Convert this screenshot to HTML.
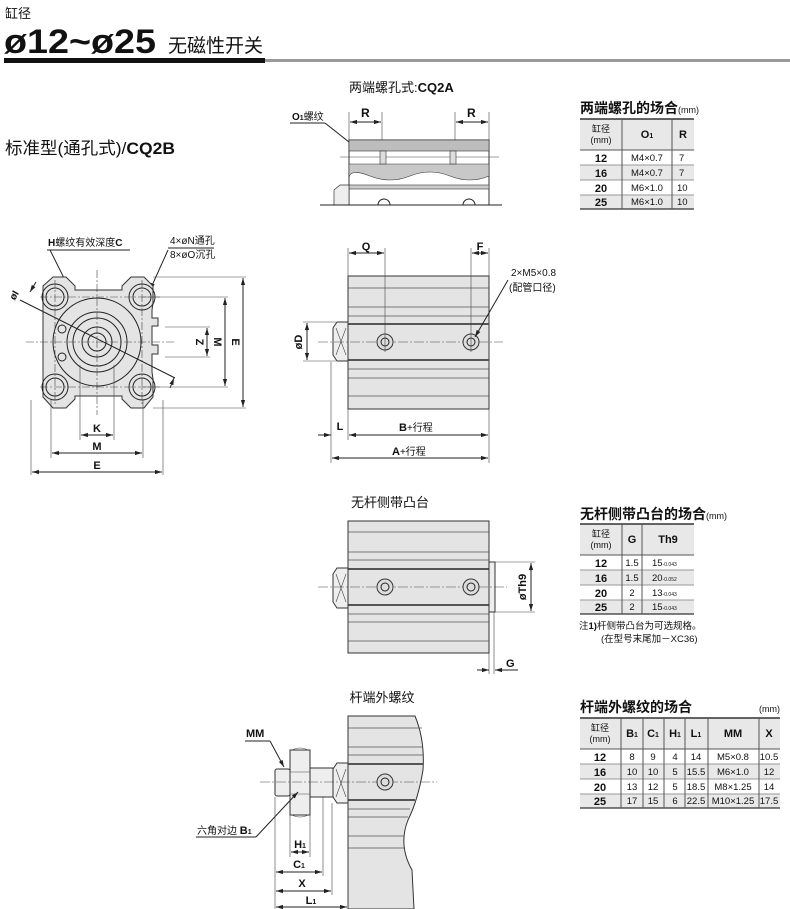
<!DOCTYPE html>
<html><head><meta charset="utf-8"><style>
html,body{margin:0;padding:0;background:#fff}
svg{display:block}
text{font-family:"Liberation Sans","Noto Sans CJK SC",sans-serif;fill:#111}
.b{font-weight:bold}
.ln{stroke:#222;stroke-width:1;fill:none}
.th{stroke:#444;stroke-width:0.6;fill:none}
.bd{fill:#e4e4e4;stroke:#333;stroke-width:1}
</style></head><body>
<svg width="790" height="909" viewBox="0 0 790 909" xmlns="http://www.w3.org/2000/svg">
<defs>
<marker id="a" viewBox="0 0 10 10" refX="10" refY="5" markerWidth="7" markerHeight="7" orient="auto-start-reverse"><path d="M0,2 L10,5 L0,8 z" fill="#222"/></marker>
</defs>
<!-- header -->
<text x="5" y="18" font-size="13">缸径</text>
<text x="4" y="53" font-size="34" class="b" textLength="152" lengthAdjust="spacingAndGlyphs">ø12~ø25</text>
<text x="168" y="52" font-size="19">无磁性开关</text>
<rect x="4" y="58" width="261" height="5" fill="#111"/>
<rect x="265" y="59" width="525" height="3" fill="#999"/>

<text x="5" y="154" font-size="17" textLength="170" lengthAdjust="spacingAndGlyphs">标准型(通孔式)/<tspan class="b">CQ2B</tspan></text>

<!-- CQ2A drawing -->
<text x="349" y="92" font-size="13">两端螺孔式:<tspan class="b">CQ2A</tspan></text>
<text x="292" y="120" font-size="10" class="b">O<tspan font-size="7">1</tspan><tspan font-weight="normal">螺纹</tspan></text>
<line x1="290" y1="123" x2="325" y2="123" class="ln"/>
<line x1="325" y1="123" x2="359" y2="150" class="ln" marker-end="url(#a)"/>
<text x="361" y="117" font-size="12" class="b">R</text>
<text x="467" y="117" font-size="12" class="b">R</text>
<line x1="349" y1="112" x2="349" y2="205" class="th"/><line x1="382" y1="112" x2="382" y2="145" class="th"/>
<line x1="455" y1="112" x2="455" y2="145" class="th"/><line x1="489" y1="112" x2="489" y2="205" class="th"/>
<line x1="350" y1="122" x2="381" y2="122" class="ln" marker-start="url(#a)" marker-end="url(#a)"/>
<line x1="456" y1="122" x2="488" y2="122" class="ln" marker-start="url(#a)" marker-end="url(#a)"/>
<rect x="349" y="140" width="140" height="65" fill="#fff" stroke="#333"/>
<rect x="349" y="140" width="140" height="11" fill="#bdbdbd" stroke="#333" stroke-width="0.6"/>
<path d="M349,164 H489 V176 Q470,184 450,176 T410,176 T370,176 T349,178 Z" fill="#c8c8c8" stroke="#333" stroke-width="0.6"/>
<rect x="349" y="185" width="140" height="4" fill="#ccc" stroke="#333" stroke-width="0.6"/>
<line x1="340" y1="157" x2="499" y2="157" class="th"/>
<rect x="380" y="151" width="6" height="13" fill="#ddd" stroke="#333" stroke-width="0.6"/>
<rect x="450" y="151" width="6" height="13" fill="#ddd" stroke="#333" stroke-width="0.6"/>
<path d="M334,205 V190 L340,185 H349 V205" fill="#eee" stroke="#333" stroke-width="0.7"/>
<line x1="320" y1="205" x2="502" y2="205" class="ln"/>
<path d="M378,205 a6,6 0 0 1 12,0" class="ln"/><path d="M463,205 a6,6 0 0 1 12,0" class="ln"/>

<!-- Table 1 -->
<text x="580" y="113" font-size="14" class="b">两端螺孔的场合<tspan font-size="9" font-weight="normal">(mm)</tspan></text>
<rect x="580" y="119" width="114" height="31" fill="#e8e8e8"/>
<rect x="580" y="165" width="114" height="15" fill="#e8e8e8"/>
<rect x="580" y="195" width="114" height="14" fill="#e8e8e8"/>
<line x1="580" y1="119" x2="694" y2="119" stroke="#333" stroke-width="1.5"/>
<line x1="580" y1="150" x2="694" y2="150" stroke="#555"/>
<line x1="580" y1="165" x2="694" y2="165" stroke="#999"/>
<line x1="580" y1="180" x2="694" y2="180" stroke="#999"/>
<line x1="580" y1="195" x2="694" y2="195" stroke="#999"/>
<line x1="580" y1="209" x2="694" y2="209" stroke="#333" stroke-width="1.2"/>
<line x1="622" y1="119" x2="622" y2="209" stroke="#555"/><line x1="672" y1="119" x2="672" y2="209" stroke="#555"/>
<text x="601" y="132" font-size="9" text-anchor="middle" fill="#555">缸径</text><text x="601" y="143" font-size="9" text-anchor="middle">(mm)</text>
<text x="647" y="138" font-size="11" class="b" text-anchor="middle">O<tspan font-size="7">1</tspan></text>
<text x="683" y="138" font-size="11" class="b" text-anchor="middle">R</text>
<g font-size="11"><text x="601" y="162" text-anchor="middle" class="b">12</text><text x="601" y="177" text-anchor="middle" class="b">16</text><text x="601" y="192" text-anchor="middle" class="b">20</text><text x="601" y="206" text-anchor="middle" class="b">25</text></g>
<g font-size="9.5"><text x="647" y="161" text-anchor="middle">M4×0.7</text><text x="647" y="176" text-anchor="middle">M4×0.7</text><text x="647" y="191" text-anchor="middle">M6×1.0</text><text x="647" y="205" text-anchor="middle">M6×1.0</text>
<text x="679" y="161">7</text><text x="679" y="176">7</text><text x="677" y="191">10</text><text x="677" y="205">10</text></g>

<!-- Front view -->
<text x="48" y="246" font-size="10" class="b">H<tspan font-weight="normal">螺纹有效深度</tspan>C</text>
<line x1="47" y1="250" x2="130" y2="250" class="ln"/>
<line x1="50" y1="250" x2="90" y2="330" class="ln" marker-end="url(#a)"/>
<text x="170" y="244" font-size="10">4×øN通孔</text>
<text x="170" y="258" font-size="10">8×øO沉孔</text>
<line x1="168" y1="248" x2="214" y2="248" class="ln"/>
<line x1="168" y1="250" x2="150" y2="290" class="ln" marker-end="url(#a)"/>
<path d="M43,286 L53,277 H66 L75,286 V290 H122 V286 L131,277 H144 L153,286 V303 L152,310 V318 H158 V326 H152 V345 H158 V354 H152 V372 L153,379 V397 L144,408 H131 L122,399 V396 H75 V399 L66,408 H53 L43,397 Z" fill="#e4e4e4" stroke="#333"/>
<g class="ln" stroke-width="0.8">
<circle cx="55" cy="297" r="13"/><circle cx="55" cy="297" r="9"/>
<circle cx="142" cy="297" r="13"/><circle cx="142" cy="297" r="9"/>
<circle cx="55" cy="387" r="13"/><circle cx="55" cy="387" r="9"/>
<circle cx="142" cy="387" r="13"/><circle cx="142" cy="387" r="9"/>
<circle cx="97" cy="342" r="44"/><circle cx="97" cy="342" r="30"/><circle cx="97" cy="342" r="24"/><circle cx="97" cy="342" r="15"/><circle cx="97" cy="342" r="9"/>
<circle cx="62" cy="329" r="4"/><circle cx="62" cy="357" r="4"/>
</g>
<g class="th" stroke-dasharray="8,2,2,2">
<line x1="26" y1="342" x2="175" y2="342"/><line x1="97" y1="270" x2="97" y2="415"/>
<line x1="40" y1="297" x2="160" y2="297"/><line x1="40" y1="387" x2="160" y2="387"/>
<line x1="55" y1="280" x2="55" y2="405"/><line x1="142" y1="280" x2="142" y2="405"/>
</g>
<line x1="20" y1="300" x2="175" y2="378" class="ln"/>
<line x1="30" y1="292" x2="36" y2="282" class="ln" marker-start="url(#a)"/>
<text x="12" y="300" font-size="10" class="b" transform="rotate(-60 14 298)">øI</text>
<line x1="170" y1="388" x2="174" y2="378" class="ln" marker-end="url(#a)"/>
<!-- right dims -->
<line x1="153" y1="277" x2="246" y2="277" class="th"/><line x1="153" y1="408" x2="246" y2="408" class="th"/>
<line x1="142" y1="297" x2="228" y2="297" class="th"/><line x1="142" y1="387" x2="228" y2="387" class="th"/>
<line x1="165" y1="327" x2="210" y2="327" class="th"/><line x1="165" y1="357" x2="210" y2="357" class="th"/>
<line x1="207" y1="328" x2="207" y2="356" class="ln" marker-start="url(#a)" marker-end="url(#a)"/>
<line x1="225" y1="298" x2="225" y2="386" class="ln" marker-start="url(#a)" marker-end="url(#a)"/>
<line x1="243" y1="278" x2="243" y2="407" class="ln" marker-start="url(#a)" marker-end="url(#a)"/>
<text x="196" y="342" font-size="11" class="b" transform="rotate(90 196 342)" text-anchor="middle">Z</text>
<text x="214" y="342" font-size="11" class="b" transform="rotate(90 214 342)" text-anchor="middle">M</text>
<text x="232" y="342" font-size="11" class="b" transform="rotate(90 232 342)" text-anchor="middle">E</text>
<!-- bottom dims -->
<line x1="80" y1="365" x2="80" y2="440" class="th"/><line x1="114" y1="365" x2="114" y2="440" class="th"/>
<line x1="51" y1="400" x2="51" y2="458" class="th"/><line x1="143" y1="400" x2="143" y2="458" class="th"/>
<line x1="31" y1="400" x2="31" y2="475" class="th"/><line x1="163" y1="400" x2="163" y2="475" class="th"/>
<line x1="81" y1="435" x2="113" y2="435" class="ln" marker-start="url(#a)" marker-end="url(#a)"/>
<line x1="52" y1="453" x2="142" y2="453" class="ln" marker-start="url(#a)" marker-end="url(#a)"/>
<line x1="32" y1="472" x2="162" y2="472" class="ln" marker-start="url(#a)" marker-end="url(#a)"/>
<text x="97" y="432" font-size="11" class="b" text-anchor="middle">K</text>
<text x="97" y="450" font-size="11" class="b" text-anchor="middle">M</text>
<text x="97" y="469" font-size="11" class="b" text-anchor="middle">E</text>

<!-- Side view -->
<g>
<rect x="348" y="276" width="141" height="133" class="bd"/>
<g stroke="#555" stroke-width="0.8">
<line x1="348" y1="288" x2="489" y2="288"/><line x1="348" y1="307" x2="489" y2="307"/><line x1="348" y1="316" x2="489" y2="316"/>
<line x1="348" y1="324" x2="489" y2="324" stroke-width="2"/><line x1="348" y1="360" x2="489" y2="360" stroke-width="2"/>
<line x1="348" y1="369" x2="489" y2="369"/><line x1="348" y1="378" x2="489" y2="378"/><line x1="348" y1="396" x2="489" y2="396"/>
</g>
<path d="M348,322 H337 L333,328 V355 L337,361 H348 Z" fill="#eee" stroke="#333"/>
<path d="M336,328 L346,355 M346,328 L336,355" class="th"/>
<line x1="318" y1="342" x2="503" y2="342" class="th" stroke-dasharray="10,2,2,2"/>
<circle cx="385" cy="342" r="8" fill="#ddd" stroke="#333"/><circle cx="385" cy="342" r="4" class="ln"/>
<circle cx="471" cy="342" r="8" fill="#ddd" stroke="#333"/><circle cx="471" cy="342" r="4" class="ln"/>
<line x1="385" y1="248" x2="385" y2="352" class="th"/><line x1="471" y1="248" x2="471" y2="352" class="th"/>
<line x1="348" y1="248" x2="348" y2="276" class="th"/><line x1="489" y1="248" x2="489" y2="276" class="th"/>
<line x1="349" y1="253" x2="384" y2="253" class="ln" marker-start="url(#a)" marker-end="url(#a)"/>
<line x1="472" y1="253" x2="488" y2="253" class="ln" marker-start="url(#a)" marker-end="url(#a)"/>
<text x="366" y="250" font-size="11" class="b" text-anchor="middle">Q</text>
<text x="480" y="250" font-size="11" class="b" text-anchor="middle">F</text>
<text x="511" y="276" font-size="10">2×M5×0.8</text>
<text x="509" y="291" font-size="10">(配管口径)</text>
<line x1="508" y1="280" x2="475" y2="337" class="ln" marker-end="url(#a)"/>
<line x1="303" y1="322" x2="336" y2="322" class="th"/><line x1="303" y1="361" x2="336" y2="361" class="th"/>
<line x1="307" y1="323" x2="307" y2="360" class="ln" marker-start="url(#a)" marker-end="url(#a)"/>
<text x="302" y="342" font-size="11" class="b" transform="rotate(-90 302 342)" text-anchor="middle">øD</text>
<line x1="331" y1="362" x2="331" y2="463" class="th"/><line x1="348" y1="409" x2="348" y2="440" class="th"/><line x1="489" y1="409" x2="489" y2="463" class="th"/>
<line x1="318" y1="435" x2="331" y2="435" class="ln" marker-end="url(#a)"/>
<line x1="349" y1="435" x2="488" y2="435" class="ln" marker-start="url(#a)" marker-end="url(#a)"/>
<line x1="332" y1="458" x2="488" y2="458" class="ln" marker-start="url(#a)" marker-end="url(#a)"/>
<text x="340" y="430" font-size="11" class="b" text-anchor="middle">L</text>
<text x="399" y="431" font-size="11" class="b">B<tspan font-weight="normal" font-size="10">+行程</tspan></text>
<text x="392" y="455" font-size="11" class="b">A<tspan font-weight="normal" font-size="10">+行程</tspan></text>
</g>

<!-- Section 3 -->
<text x="390" y="507" font-size="13" text-anchor="middle">无杆侧带凸台</text>
<rect x="348" y="521" width="141" height="132" class="bd"/>
<g stroke="#555" stroke-width="0.8">
<line x1="348" y1="532" x2="489" y2="532"/><line x1="348" y1="552" x2="489" y2="552"/><line x1="348" y1="560" x2="489" y2="560"/>
<line x1="348" y1="569" x2="489" y2="569" stroke-width="2"/><line x1="348" y1="605" x2="489" y2="605" stroke-width="2"/>
<line x1="348" y1="614" x2="489" y2="614"/><line x1="348" y1="622" x2="489" y2="622"/><line x1="348" y1="641" x2="489" y2="641"/>
</g>
<rect x="489" y="562" width="6" height="50" fill="#eee" stroke="#333"/>
<line x1="494" y1="612" x2="494" y2="674" class="th"/><line x1="489" y1="653" x2="489" y2="674" class="th"/>
<path d="M348,568 H337 L333,574 V602 L337,608 H348 Z" fill="#eee" stroke="#333"/>
<path d="M336,574 L346,602 M346,574 L336,602" class="th"/>
<line x1="318" y1="587" x2="507" y2="587" class="th" stroke-dasharray="10,2,2,2"/>
<circle cx="385" cy="587" r="8" fill="#ddd" stroke="#333"/><circle cx="385" cy="587" r="4" class="ln"/>
<circle cx="471" cy="587" r="8" fill="#ddd" stroke="#333"/><circle cx="471" cy="587" r="4" class="ln"/>
<line x1="495" y1="562" x2="535" y2="562" class="th"/><line x1="495" y1="612" x2="535" y2="612" class="th"/>
<line x1="531" y1="563" x2="531" y2="611" class="ln" marker-start="url(#a)" marker-end="url(#a)"/>
<text x="526" y="587" font-size="11" class="b" transform="rotate(-90 526 587)" text-anchor="middle">øTh9</text>
<line x1="477" y1="670" x2="489" y2="670" class="ln" marker-end="url(#a)"/>
<line x1="518" y1="670" x2="495" y2="670" class="ln" marker-end="url(#a)"/>
<text x="506" y="667" font-size="11" class="b">G</text>

<!-- Table 2 -->
<text x="580" y="519" font-size="14" class="b">无杆侧带凸台的场合<tspan font-size="9" font-weight="normal">(mm)</tspan></text>
<rect x="580" y="524" width="114" height="31" fill="#e8e8e8"/>
<rect x="580" y="570" width="114" height="15" fill="#e8e8e8"/>
<rect x="580" y="600" width="114" height="14" fill="#e8e8e8"/>
<line x1="580" y1="524" x2="694" y2="524" stroke="#333" stroke-width="1.5"/>
<line x1="580" y1="555" x2="694" y2="555" stroke="#555"/>
<line x1="580" y1="570" x2="694" y2="570" stroke="#999"/><line x1="580" y1="585" x2="694" y2="585" stroke="#999"/><line x1="580" y1="600" x2="694" y2="600" stroke="#999"/>
<line x1="580" y1="614" x2="694" y2="614" stroke="#333" stroke-width="1.2"/>
<line x1="622" y1="524" x2="622" y2="614" stroke="#555"/><line x1="642" y1="524" x2="642" y2="614" stroke="#555"/>
<text x="601" y="537" font-size="9" text-anchor="middle" fill="#555">缸径</text><text x="601" y="548" font-size="9" text-anchor="middle">(mm)</text>
<text x="632" y="543" font-size="11" class="b" text-anchor="middle">G</text>
<text x="668" y="543" font-size="11" class="b" text-anchor="middle">Th9</text>
<g font-size="11" class="b"><text x="601" y="567" text-anchor="middle">12</text><text x="601" y="582" text-anchor="middle">16</text><text x="601" y="597" text-anchor="middle">20</text><text x="601" y="611" text-anchor="middle">25</text></g>
<g font-size="9.5"><text x="632" y="566" text-anchor="middle">1.5</text><text x="632" y="581" text-anchor="middle">1.5</text><text x="632" y="596" text-anchor="middle">2</text><text x="632" y="610" text-anchor="middle">2</text>
<text x="652" y="566">15<tspan font-size="5">-0.043</tspan></text><text x="652" y="581">20<tspan font-size="5">-0.052</tspan></text><text x="652" y="596">13<tspan font-size="5">-0.043</tspan></text><text x="652" y="610">15<tspan font-size="5">-0.043</tspan></text></g>
<text x="579" y="629" font-size="9.5">注<tspan class="b">1)</tspan>杆侧带凸台为可选规格。</text>
<text x="601" y="642" font-size="9.5">(在型号末尾加－XC36)</text>

<!-- Section 4 -->
<text x="382" y="702" font-size="13" text-anchor="middle">杆端外螺纹</text>
<path d="M348,716 H415 Q425,740 423,770 Q418,800 408,820 Q398,845 412,870 L414,909 H348 Z" fill="#e4e4e4" stroke="#333"/>
<g stroke="#555" stroke-width="0.8">
<line x1="348" y1="728" x2="422" y2="728"/><line x1="348" y1="747" x2="422" y2="747"/><line x1="348" y1="755" x2="423" y2="755"/>
<line x1="348" y1="764" x2="423" y2="764" stroke-width="2"/><line x1="348" y1="800" x2="415" y2="800" stroke-width="2"/>
<line x1="348" y1="809" x2="410" y2="809"/><line x1="348" y1="817" x2="408" y2="817"/><line x1="348" y1="836" x2="404" y2="836"/><line x1="348" y1="848" x2="405" y2="848"/>
</g>
<path d="M348,763 H337 L333,769 V797 L337,803 H348 Z" fill="#eee" stroke="#333"/>
<path d="M336,769 L346,797 M346,769 L336,797" class="th"/>
<rect x="310" y="768" width="23" height="29" fill="#eee" stroke="#333"/>
<rect x="275" y="769" width="15" height="27" rx="2" fill="#eee" stroke="#333"/>
<path d="M290,750 V815 H310 V750 Z" fill="#eee" stroke="#333"/>
<path d="M292,750 Q300,746 308,750 M290,772 H310 M290,794 H310 M292,815 Q300,819 308,815" class="th"/>
<line x1="260" y1="782" x2="437" y2="782" class="th" stroke-dasharray="10,2,2,2"/>
<circle cx="385" cy="782" r="8" fill="#ddd" stroke="#333"/><circle cx="385" cy="782" r="4" class="ln"/>
<text x="246" y="737" font-size="11" class="b">MM</text>
<line x1="245" y1="741" x2="270" y2="741" class="ln"/>
<line x1="270" y1="741" x2="284" y2="767" class="ln" marker-end="url(#a)"/>
<text x="197" y="834" font-size="10">六角对边 <tspan class="b" font-size="11">B<tspan font-size="7">1</tspan></tspan></text>
<line x1="196" y1="837" x2="256" y2="837" class="ln"/>
<line x1="256" y1="837" x2="298" y2="792" class="ln" marker-end="url(#a)"/>
<g class="th">
<line x1="275" y1="797" x2="275" y2="909"/><line x1="290" y1="815" x2="290" y2="857"/><line x1="310" y1="815" x2="310" y2="857"/>
<line x1="323" y1="797" x2="323" y2="876"/><line x1="332" y1="803" x2="332" y2="895"/><line x1="348" y1="850" x2="348" y2="909"/>
</g>
<line x1="291" y1="852" x2="309" y2="852" class="ln" marker-start="url(#a)" marker-end="url(#a)"/>
<line x1="276" y1="872" x2="322" y2="872" class="ln" marker-start="url(#a)" marker-end="url(#a)"/>
<line x1="276" y1="891" x2="331" y2="891" class="ln" marker-start="url(#a)" marker-end="url(#a)"/>
<line x1="276" y1="907" x2="347" y2="907" class="ln" marker-start="url(#a)" marker-end="url(#a)"/>
<text x="300" y="848" font-size="11" class="b" text-anchor="middle">H<tspan font-size="7">1</tspan></text>
<text x="299" y="868" font-size="11" class="b" text-anchor="middle">C<tspan font-size="7">1</tspan></text>
<text x="302" y="887" font-size="11" class="b" text-anchor="middle">X</text>
<text x="311" y="904" font-size="11" class="b" text-anchor="middle">L<tspan font-size="7">1</tspan></text>

<!-- Table 3 -->
<text x="580" y="712" font-size="14" class="b">杆端外螺纹的场合</text>
<text x="759" y="712" font-size="9">(mm)</text>
<rect x="580" y="718" width="200" height="31" fill="#e8e8e8"/>
<rect x="580" y="764" width="200" height="15" fill="#e8e8e8"/>
<rect x="580" y="794" width="200" height="14" fill="#e8e8e8"/>
<line x1="580" y1="718" x2="780" y2="718" stroke="#333" stroke-width="1.5"/>
<line x1="580" y1="749" x2="780" y2="749" stroke="#555"/>
<line x1="580" y1="764" x2="780" y2="764" stroke="#999"/><line x1="580" y1="779" x2="780" y2="779" stroke="#999"/><line x1="580" y1="794" x2="780" y2="794" stroke="#999"/>
<line x1="580" y1="808" x2="780" y2="808" stroke="#333" stroke-width="1.2"/>
<g stroke="#555"><line x1="621" y1="718" x2="621" y2="808"/><line x1="643" y1="718" x2="643" y2="808"/><line x1="664" y1="718" x2="664" y2="808"/><line x1="685" y1="718" x2="685" y2="808"/><line x1="708" y1="718" x2="708" y2="808"/><line x1="759" y1="718" x2="759" y2="808"/></g>
<text x="600" y="731" font-size="9" text-anchor="middle" fill="#555">缸径</text><text x="600" y="742" font-size="9" text-anchor="middle">(mm)</text>
<g font-size="11" class="b" text-anchor="middle">
<text x="632" y="737">B<tspan font-size="7">1</tspan></text><text x="653" y="737">C<tspan font-size="7">1</tspan></text><text x="675" y="737">H<tspan font-size="7">1</tspan></text><text x="696" y="737">L<tspan font-size="7">1</tspan></text><text x="733" y="737">MM</text><text x="769" y="737">X</text>
<text x="600" y="761">12</text><text x="600" y="776">16</text><text x="600" y="791">20</text><text x="600" y="805">25</text>
</g>
<g font-size="9.5" text-anchor="middle">
<text x="632" y="760">8</text><text x="653" y="760">9</text><text x="675" y="760">4</text><text x="696" y="760">14</text><text x="733" y="760">M5×0.8</text><text x="769" y="760">10.5</text>
<text x="632" y="775">10</text><text x="653" y="775">10</text><text x="675" y="775">5</text><text x="696" y="775">15.5</text><text x="733" y="775">M6×1.0</text><text x="769" y="775">12</text>
<text x="632" y="790">13</text><text x="653" y="790">12</text><text x="675" y="790">5</text><text x="696" y="790">18.5</text><text x="733" y="790">M8×1.25</text><text x="769" y="790">14</text>
<text x="632" y="804">17</text><text x="653" y="804">15</text><text x="675" y="804">6</text><text x="696" y="804">22.5</text><text x="733" y="804">M10×1.25</text><text x="769" y="804">17.5</text>
</g>
</svg>
</body></html>
